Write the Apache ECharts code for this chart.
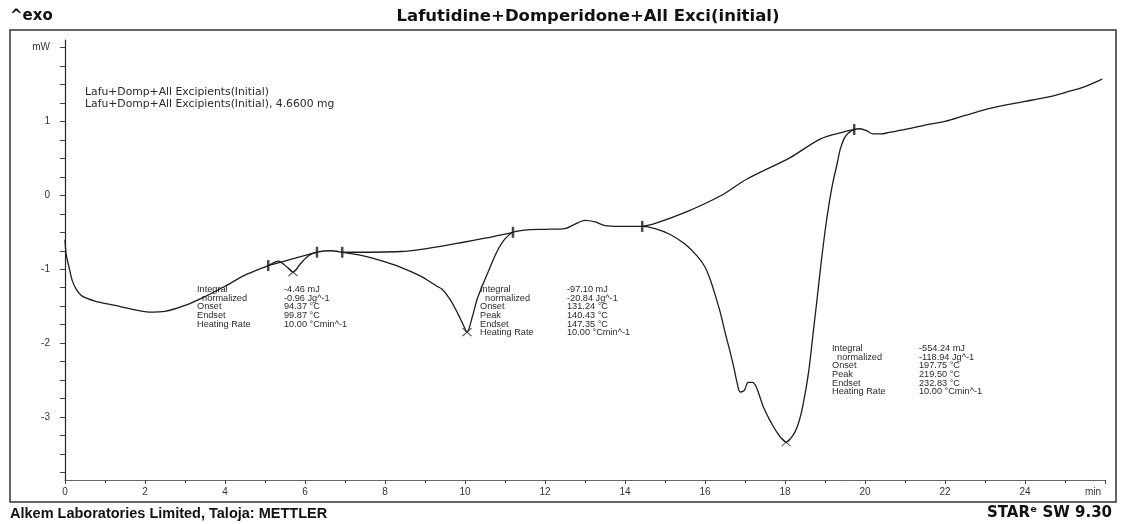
<!DOCTYPE html>
<html>
<head>
<meta charset="utf-8">
<title>Lafutidine+Domperidone+All Exci(initial)</title>
<script src="https://cdn.jsdelivr.net/npm/echarts@6/dist/echarts.min.js"></script>
<style>
  html, body { margin: 0; padding: 0; background: #fff; }
  #chart { width: 1122px; height: 524px; }
</style>
</head>
<body>
<div id="chart"></div>
<script>
// DSC curve, time (min) vs heat flow (mW)
const dscCurve = [
  [0, -0.6], [0.03, -0.8], [0.1, -0.97], [0.18, -1.15], [0.28, -1.27], [0.42, -1.36],
  [0.75, -1.43], [1.25, -1.49], [1.75, -1.55], [2.1, -1.58], [2.5, -1.57], [3.0, -1.49],
  [3.5, -1.37], [4.0, -1.23], [4.5, -1.08], [5.08, -0.95], [5.33, -0.89], [5.55, -0.97],
  [5.7, -1.04], [5.88, -0.93], [6.08, -0.82], [6.3, -0.77], [6.63, -0.75], [6.93, -0.77],
  [7.38, -0.81], [7.88, -0.88], [8.38, -0.97], [8.88, -1.09], [9.3, -1.23], [9.43, -1.27],
  [9.63, -1.41], [9.83, -1.61], [9.98, -1.78], [10.05, -1.85], [10.18, -1.65], [10.3, -1.41],
  [10.45, -1.2], [10.63, -0.97], [10.8, -0.76], [11.0, -0.59], [11.2, -0.5], [11.5, -0.47],
  [12.0, -0.46], [12.5, -0.45], [12.75, -0.39], [13.0, -0.34], [13.25, -0.36], [13.5, -0.41],
  [13.88, -0.42], [14.43, -0.42], [14.75, -0.45], [15.13, -0.53], [15.5, -0.66], [15.8, -0.82],
  [16.0, -0.97], [16.13, -1.14], [16.25, -1.34], [16.38, -1.58], [16.5, -1.85], [16.63, -2.12],
  [16.73, -2.35], [16.8, -2.53], [16.88, -2.66], [16.98, -2.64], [17.08, -2.53], [17.18, -2.53],
  [17.28, -2.59], [17.45, -2.85], [17.58, -3.0], [17.7, -3.12], [17.83, -3.23], [17.95, -3.31],
  [18.03, -3.34], [18.18, -3.26], [18.3, -3.14], [18.4, -2.96], [18.5, -2.69], [18.6, -2.35],
  [18.7, -1.88], [18.8, -1.41], [18.9, -0.93], [19.0, -0.49], [19.1, -0.12], [19.2, 0.18],
  [19.3, 0.42], [19.38, 0.62], [19.48, 0.77], [19.58, 0.84], [19.73, 0.89], [19.88, 0.9],
  [20.05, 0.87], [20.2, 0.83], [20.4, 0.83], [20.6, 0.85], [21.0, 0.89], [21.5, 0.95],
  [22.0, 1.0], [22.5, 1.08], [23.0, 1.16], [23.5, 1.22], [24.0, 1.27], [24.5, 1.32],
  [25.0, 1.39], [25.5, 1.47], [25.93, 1.57]
]

// integration baselines
const baseline1 = [[5.08, -0.95], [6.3, -0.77]]
const baseline2 = [[6.93, -0.77], [8.4, -0.76], [9.6, -0.67], [10.5, -0.58], [11.2, -0.5]]
const baseline3 = [
  [14.43, -0.42], [14.7, -0.39], [15.55, -0.22], [16.38, -0.01], [17.05, 0.22],
  [18.13, 0.51], [18.88, 0.76], [19.5, 0.86], [19.73, 0.89]
]

// integration limits and peak marks
const limitMarks = [[5.08, -0.95], [6.3, -0.77], [6.93, -0.77], [11.2, -0.5], [14.43, -0.42], [19.73, 0.89]]
const peakMarks = [[5.7, -1.04], [10.05, -1.85], [18.03, -3.34]]

// axis ticks
const xTickLabels = [0, 2, 4, 6, 8, 10, 12, 14, 16, 18, 20, 22, 24, 26]
const yTickLabels = [-3, -2, -1, 0, 1, 2]
const yMinorTicks = [-3.75, -3.5, -3.25, -3, -2.75, -2.5, -2.25, -2, -1.75, -1.5, -1.25, -1,
  -0.75, -0.5, -0.25, 0, 0.25, 0.5, 0.75, 1, 1.25, 1.5, 1.75, 2]

// evaluation results
const result1 = [
  ['Integral', '-4.46 mJ'], ['  normalized', '-0.96 Jg^-1'], ['Onset', '94.37 °C'],
  ['Endset', '99.87 °C'], ['Heating Rate', '10.00 °Cmin^-1']
]
const result2 = [
  ['Integral', '-97.10 mJ'], ['  normalized', '-20.84 Jg^-1'], ['Onset', '131.24 °C'],
  ['Peak', '140.43 °C'], ['Endset', '147.35 °C'], ['Heating Rate', '10.00 °Cmin^-1']
]
const result3 = [
  ['Integral', '-554.24 mJ'], ['  normalized', '-118.94 Jg^-1'], ['Onset', '197.75 °C'],
  ['Peak', '219.50 °C'], ['Endset', '232.83 °C'], ['Heating Rate', '10.00 °Cmin^-1']
]

const lineColor = '#1c1c1c'
const textColor = '#2a2a2a'
const smallFont = '9.2px "Liberation Sans", Arial, sans-serif'
const headFont = 'bold 15px "DejaVu Sans", Verdana, sans-serif'

const resultBlock = (rows, x, y) => {
  const common = { font: smallFont, fill: textColor, lineHeight: 8.7 }
  return [
    { type: 'text', x: x, y: y, style: Object.assign({ text: rows.map(r => r[0]).join('\n') }, common) },
    { type: 'text', x: x + 87, y: y, style: Object.assign({ text: rows.map(r => r[1]).join('\n') }, common) }
  ]
}

const chart = echarts.init(document.getElementById('chart'))

const lineSeries = (data, smooth) => ({
  type: 'line',
  data: data,
  smooth: smooth,
  showSymbol: false,
  silent: true,
  lineStyle: { color: lineColor, width: 1.3 }
})

chart.setOption({
  animation: false,
  backgroundColor: '#fff',
  grid: { left: 65, right: 17, top: 40, bottom: 44 },
  xAxis: {
    type: 'value',
    min: 0,
    max: 26,
    interval: 2,
    axisLine: { show: true, onZero: false, lineStyle: { color: '#666', width: 1 } },
    axisTick: { show: true, length: 4, lineStyle: { color: '#444' } },
    minorTick: { show: true, splitNumber: 2, length: 3, lineStyle: { color: '#444' } },
    splitLine: { show: false },
    axisLabel: {
      margin: 7,
      fontSize: 10,
      color: '#333',
      fontFamily: 'Liberation Sans, Arial, sans-serif',
      customValues: xTickLabels,
      formatter: v => (v === 26 ? '{m|min}' : String(v)),
      rich: { m: { fontSize: 10, color: '#333', padding: [0, 24, 0, 0] } }
    }
  },
  yAxis: {
    type: 'value',
    min: -3.85,
    max: 2.1,
    axisLine: { show: true, onZero: false, lineStyle: { color: '#222', width: 1.2 } },
    axisTick: { show: true, length: 5, customValues: yMinorTicks, lineStyle: { color: '#444' } },
    splitLine: { show: false },
    axisLabel: {
      margin: 15,
      fontSize: 10,
      color: '#333',
      fontFamily: 'Liberation Sans, Arial, sans-serif',
      customValues: yTickLabels,
      formatter: v => (v === 2 ? 'mW' : String(v))
    }
  },
  series: [
    lineSeries(dscCurve, 0.3),
    lineSeries(baseline1, false),
    lineSeries(baseline2, 0.3),
    lineSeries(baseline3, 0.3),
    {
      type: 'scatter',
      data: limitMarks,
      symbol: 'rect',
      symbolSize: [2.5, 11],
      silent: true,
      itemStyle: { color: lineColor }
    },
    {
      type: 'scatter',
      data: peakMarks,
      symbol: 'path://M0,0L10,10M10,0L0,10',
      symbolSize: [9, 8],
      silent: true,
      itemStyle: { color: 'none', borderColor: lineColor, borderWidth: 1 }
    }
  ],
  graphic: [
    {
      type: 'rect',
      shape: { x: 10, y: 30, width: 1106, height: 472 },
      style: { fill: 'none', stroke: '#333', lineWidth: 1.5 },
      silent: true
    },
    {
      type: 'text', x: 10, y: 9,
      style: { text: '^exo', font: headFont, fill: '#111' }
    },
    {
      type: 'text', x: 588, y: 8,
      style: {
        text: 'Lafutidine+Domperidone+All Exci(initial)',
        font: 'bold 16.5px "DejaVu Sans", Verdana, sans-serif', fill: '#111', textAlign: 'center'
      }
    },
    {
      type: 'text', x: 10, y: 506,
      style: {
        text: 'Alkem Laboratories Limited, Taloja: METTLER',
        font: 'bold 14.5px "Liberation Sans", Arial, sans-serif', fill: '#111'
      }
    },
    {
      type: 'text', x: 1112, y: 506,
      style: {
        text: 'STARᵉ SW 9.30',
        font: headFont, fill: '#111', textAlign: 'right'
      }
    },
    {
      type: 'text', x: 85, y: 86,
      style: {
        text: 'Lafu+Domp+All Excipients(Initial)\nLafu+Domp+All Excipients(Initial), 4.6600 mg',
        font: '10.8px "DejaVu Sans", Verdana, sans-serif', fill: textColor, lineHeight: 12
      }
    },
    ...resultBlock(result1, 197, 285),
    ...resultBlock(result2, 480, 285),
    ...resultBlock(result3, 832, 344)
  ]
})

window.addEventListener('resize', () => chart.resize())
</script>
</body>
</html>
